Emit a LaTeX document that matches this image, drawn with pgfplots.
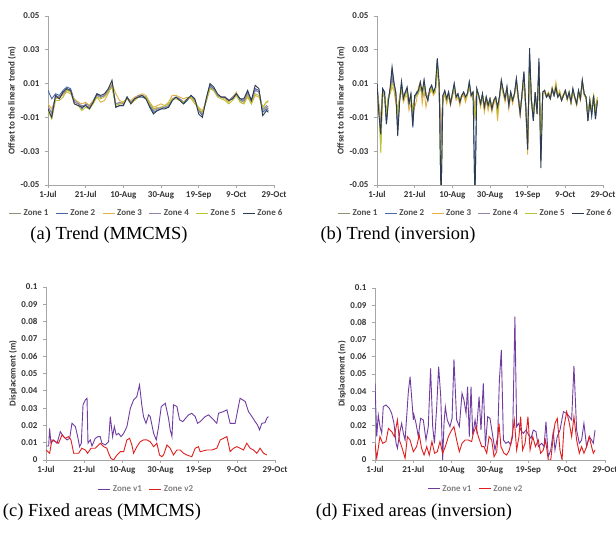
\documentclass[border=0pt]{standalone}
\usepackage{pgfplots}
\pgfplotsset{compat=1.18}
\usepackage{pgfplotstable}
\usepackage{fontspec}
\setmainfont{Liberation Serif}
\newfontfamily\calfont{Carlito}

\definecolor{zA}{RGB}{140,145,120}
\definecolor{zB}{RGB}{70,105,170}
\definecolor{zC}{RGB}{225,175,70}
\definecolor{zD}{RGB}{150,130,170}
\definecolor{zE}{RGB}{185,195,50}
\definecolor{zF}{RGB}{45,60,80}
\definecolor{vA}{RGB}{112,60,160}
\definecolor{vB}{RGB}{225,30,30}

\pgfplotstableread{
d z1 z2 z3 z4 z5 z6
0 -0.003 0.006 -0.002 -0.004 -0.006 -0.005
2 -0.008 0.001 -0.005 -0.007 -0.011 -0.010
4 0.002 0.004 0.001 0.003 0.000 0.003
6 0.001 0.003 0.002 0.002 0.000 0.001
8 0.005 0.006 0.003 0.004 0.002 0.005
10 0.007 0.008 0.005 0.006 0.006 0.007
12 0.006 0.007 0.004 0.006 0.005 0.006
14 -0.001 0.000 0.001 -0.001 -0.002 -0.002
16 -0.002 -0.001 -0.001 -0.002 -0.003 -0.003
18 -0.004 -0.005 -0.002 -0.003 -0.006 -0.004
20 -0.003 -0.002 -0.001 -0.003 -0.004 -0.003
22 -0.004 -0.003 -0.003 -0.004 -0.005 -0.005
24 -0.001 0.000 0.000 -0.001 -0.002 -0.001
26 0.003 0.004 0.002 0.003 0.002 0.004
28 0.002 0.002 -0.001 0.002 0.001 0.003
30 0.003 0.003 0.000 0.003 0.002 0.004
32 0.006 0.005 0.004 0.006 0.005 0.007
34 0.010 0.009 0.010 0.009 0.008 0.012
36 -0.002 -0.004 0.004 -0.002 -0.003 -0.004
38 -0.002 -0.003 0.000 -0.001 -0.002 -0.003
40 -0.002 -0.003 -0.001 -0.002 -0.001 -0.003
42 0.002 0.002 0.001 0.002 0.001 0.002
44 -0.001 -0.001 0.000 -0.001 -0.002 -0.002
46 0.001 0.001 0.002 0.001 0.000 0.001
48 0.002 0.002 0.003 0.003 0.002 0.002
50 0.003 0.002 0.004 0.003 0.003 0.003
52 0.002 0.001 0.003 0.002 0.002 0.001
54 -0.002 -0.003 -0.001 -0.002 -0.002 -0.004
56 -0.006 -0.007 -0.004 -0.005 -0.005 -0.008
58 -0.005 -0.006 -0.003 -0.005 -0.004 -0.006
60 -0.004 -0.005 -0.002 -0.004 -0.004 -0.005
62 -0.004 -0.004 -0.003 -0.004 -0.003 -0.005
64 -0.003 -0.004 -0.001 -0.003 -0.002 -0.004
66 0.001 0.000 0.003 0.001 0.001 0.000
68 0.002 0.002 0.003 0.002 0.001 0.002
70 0.001 0.000 0.002 0.001 0.000 0.000
72 -0.001 -0.002 0.001 -0.001 -0.001 -0.002
74 0.001 0.000 0.002 0.001 0.001 0.001
76 0.002 0.003 0.001 0.002 0.002 0.003
78 0.000 0.000 -0.002 0.000 -0.001 0.001
80 -0.005 -0.006 -0.004 -0.006 -0.005 -0.008
82 -0.008 -0.009 -0.006 -0.008 -0.007 -0.010
84 0.000 0.001 -0.001 0.000 0.000 0.001
86 0.008 0.009 0.007 0.008 0.007 0.010
88 0.006 0.007 0.006 0.006 0.006 0.008
90 0.003 0.003 0.003 0.003 0.002 0.004
92 0.002 0.002 0.002 0.002 0.001 0.002
94 0.001 0.002 0.001 0.002 0.000 0.002
96 0.000 0.000 -0.001 0.000 -0.002 0.000
98 0.002 0.001 0.002 0.002 0.000 0.001
100 0.004 0.004 0.005 0.004 0.003 0.004
102 0.000 0.001 -0.001 0.000 -0.001 0.001
104 -0.001 0.000 -0.002 0.000 -0.002 0.001
106 0.004 0.005 0.002 0.004 0.003 0.006
108 -0.001 0.000 -0.002 -0.001 -0.002 0.000
110 0.006 0.007 0.003 0.006 0.004 0.009
112 0.005 0.006 0.002 0.005 0.003 0.007
114 -0.006 -0.007 -0.004 -0.005 -0.004 -0.009
116 -0.004 -0.005 -0.001 -0.003 -0.001 -0.006
117 -0.005 -0.006 -0.001 -0.004 0.000 -0.007
}\trendA

\pgfplotstableread{
d z1 z2 z3 z4 z5 z6
0 0.008 0.010 0.006 0.009 0.007 0.010
1 -0.004 -0.006 -0.002 -0.005 -0.003 -0.008
2 -0.025 -0.018 -0.010 -0.015 -0.031 -0.020
3 0.006 0.007 0.005 0.006 0.004 0.007
4 0.003 0.005 0.002 0.004 0.002 0.005
5 -0.010 -0.014 -0.006 -0.010 -0.008 -0.014
6 0.001 0.000 0.002 0.001 0.002 -0.001
7 0.006 0.007 0.004 0.006 0.005 0.008
8 0.014 0.018 0.008 0.012 0.010 0.020
9 0.009 0.010 0.006 0.009 0.008 0.011
10 0.003 0.005 -0.002 0.003 0.002 0.004
11 -0.012 -0.018 -0.004 -0.010 -0.008 -0.021
12 0.001 0.000 0.002 0.001 0.001 -0.001
13 0.009 0.011 0.006 0.008 0.007 0.011
14 0.002 0.001 -0.001 0.002 0.001 0.001
15 0.004 0.005 0.002 0.004 0.003 0.005
16 0.006 0.007 0.003 0.006 0.005 0.008
17 -0.001 -0.002 -0.006 -0.001 -0.002 -0.002
18 0.003 0.003 -0.002 0.003 0.002 0.004
19 -0.010 -0.016 -0.008 -0.010 -0.006 -0.015
20 0.002 0.002 -0.004 0.001 0.002 0.003
21 0.004 0.005 0.000 0.003 0.003 0.004
22 0.005 0.006 0.008 0.005 0.004 0.006
23 0.009 0.008 0.011 0.009 0.008 0.011
24 0.004 0.003 -0.002 0.005 0.004 0.005
25 0.010 0.012 0.006 0.009 0.010 0.012
26 0.003 0.004 -0.004 0.004 0.003 0.003
27 0.001 0.000 0.002 0.002 0.001 0.000
28 0.006 0.006 0.004 0.006 0.005 0.007
29 0.008 0.009 0.006 0.008 0.007 0.009
30 0.004 0.005 0.003 0.005 0.004 0.005
31 0.006 0.007 0.005 0.006 0.006 0.008
32 0.020 0.024 0.018 0.021 0.019 0.025
33 0.008 0.010 0.006 0.008 0.009 0.010
34 -0.022 -0.060 -0.018 -0.025 -0.060 -0.060
35 0.002 0.003 0.001 0.003 0.002 0.003
36 0.004 0.005 0.003 0.004 0.004 0.006
37 0.000 0.001 -0.002 0.000 0.000 0.001
38 0.004 0.005 0.003 0.004 0.004 0.005
39 -0.001 -0.002 -0.003 -0.001 -0.001 -0.002
40 0.003 0.004 0.002 0.003 0.003 0.004
41 0.008 0.010 0.007 0.008 0.008 0.010
42 0.002 0.002 0.000 0.002 0.002 0.002
43 0.003 0.004 0.002 0.003 0.003 0.004
44 -0.001 -0.001 -0.003 0.000 -0.001 -0.001
45 0.003 0.003 0.002 0.003 0.003 0.003
46 0.004 0.005 0.003 0.004 0.004 0.005
47 0.001 0.002 -0.001 0.002 0.001 0.002
48 0.004 0.004 0.003 0.004 0.004 0.004
49 0.009 0.011 0.008 0.009 0.009 0.011
50 0.003 0.003 0.002 0.003 0.003 0.003
51 0.004 0.005 0.004 0.004 0.004 0.005
52 -0.012 -0.060 -0.004 -0.008 -0.010 -0.060
53 0.006 0.007 0.005 0.006 0.006 0.007
54 0.003 0.003 0.002 0.003 0.003 0.003
55 -0.002 -0.002 -0.004 -0.002 -0.002 -0.002
56 0.003 0.004 0.002 0.003 0.003 0.004
57 -0.004 -0.004 -0.007 -0.004 -0.004 -0.004
58 0.002 0.002 0.000 0.002 0.002 0.002
59 -0.003 -0.003 -0.006 -0.003 -0.003 -0.003
60 0.001 0.001 -0.001 0.001 0.001 0.001
61 -0.004 -0.005 -0.007 -0.005 -0.004 -0.005
62 0.000 0.000 -0.002 0.000 0.000 0.000
63 0.002 0.002 0.001 0.002 0.002 0.002
64 -0.005 -0.004 -0.012 -0.005 -0.008 -0.004
65 0.002 0.002 0.000 0.002 0.002 0.002
66 0.010 0.012 0.009 0.010 0.011 0.012
67 0.005 0.006 0.004 0.005 0.005 0.006
68 0.001 0.001 -0.001 0.001 0.001 0.001
69 0.007 0.008 0.006 0.007 0.007 0.008
70 -0.002 -0.003 -0.005 -0.003 -0.002 -0.003
71 0.004 0.005 0.003 0.004 0.004 0.005
72 0.000 0.000 -0.002 0.000 0.000 0.000
73 0.004 0.004 0.003 0.004 0.004 0.004
74 0.011 0.013 0.010 0.011 0.012 0.013
75 0.002 0.002 0.000 0.002 0.002 0.002
76 -0.006 -0.008 -0.009 -0.006 -0.007 -0.008
77 0.003 0.004 0.002 0.003 0.003 0.004
78 0.013 0.017 0.011 0.014 0.013 0.017
79 -0.003 -0.004 -0.006 -0.003 -0.004 -0.004
80 -0.022 -0.029 -0.032 -0.024 -0.026 -0.029
81 0.024 0.028 0.018 0.022 0.020 0.031
82 0.000 0.000 -0.002 0.000 0.000 0.000
83 -0.009 -0.012 -0.010 -0.009 -0.010 -0.012
84 0.004 0.005 0.003 0.004 0.004 0.005
85 -0.006 -0.008 -0.008 -0.006 -0.007 -0.008
86 0.020 0.023 0.016 0.019 0.018 0.025
87 -0.030 -0.036 -0.025 -0.028 -0.027 -0.040
88 0.004 0.005 0.003 0.004 0.004 0.005
89 0.005 0.006 0.006 0.005 0.005 0.006
90 0.002 0.002 0.003 0.002 0.002 0.002
91 0.003 0.004 0.005 0.003 0.004 0.004
92 0.001 0.001 0.002 0.001 0.001 0.001
93 0.006 0.007 0.008 0.006 0.007 0.007
94 0.003 0.003 0.004 0.003 0.004 0.003
95 0.007 0.008 0.011 0.007 0.009 0.008
96 0.002 0.002 0.003 0.002 0.002 0.002
97 0.004 0.004 0.006 0.004 0.005 0.004
98 0.000 0.000 0.001 0.000 0.000 0.000
99 0.003 0.003 0.004 0.003 0.003 0.003
100 0.005 0.006 0.005 0.005 0.006 0.006
101 0.001 0.001 0.000 0.001 0.001 0.001
102 0.004 0.005 0.004 0.004 0.005 0.005
103 -0.001 -0.001 -0.002 -0.001 -0.001 -0.001
104 0.006 0.007 0.005 0.006 0.006 0.007
105 0.002 0.002 0.001 0.002 0.002 0.002
106 -0.002 -0.002 -0.003 -0.002 -0.002 -0.002
107 0.005 0.006 0.004 0.005 0.005 0.006
108 0.001 0.001 0.000 0.001 0.001 0.001
109 0.011 0.012 0.010 0.011 0.011 0.012
110 0.004 0.004 0.003 0.004 0.004 0.004
111 0.002 0.002 0.001 0.002 0.002 0.002
112 -0.010 -0.012 -0.008 -0.010 -0.009 -0.012
113 0.000 0.000 -0.001 0.000 0.001 0.000
114 -0.007 -0.009 -0.005 -0.007 -0.006 -0.009
115 0.002 0.003 0.001 0.002 0.003 0.003
116 -0.009 -0.011 -0.004 -0.008 -0.006 -0.011
117 -0.001 0.000 0.002 -0.001 0.001 0.000
}\trendB

\pgfplotstableread{
d v
0 0.0081
1.4 0.0081
1.9 0.0183
2.6 0.0097
4.0 0.0116
5.8 0.0097
7.5 0.0164
9.2 0.0135
11.0 0.0116
12.4 0.0125
13.6 0.0212
15.4 0.0193
16.6 0.0135
17.6 0.0077
18.5 0.0097
19.4 0.0319
20.6 0.0347
21.5 0.0357
22.0 0.0097
23.2 0.0116
24.1 0.0081
25.8 0.0125
27.2 0.0135
28.4 0.0135
29.3 0.0097
31.1 0.0087
32.8 0.0106
33.7 0.0251
34.9 0.0135
35.8 0.0193
36.8 0.0145
38.0 0.0154
39.3 0.0135
40.7 0.0154
42.4 0.0193
44.2 0.0299
45.9 0.0347
46.8 0.0357
47.6 0.0367
49.0 0.0434
50.3 0.0309
51.1 0.0251
52.4 0.0212
53.8 0.0261
54.6 0.0251
56.4 0.0154
57.8 0.0116
59.0 0.0193
60.4 0.0309
62.5 0.0328
64.2 0.0241
65.1 0.0174
66.0 0.0135
66.8 0.0319
68.6 0.0309
70.0 0.0232
71.7 0.0222
74.7 0.0261
76.4 0.0270
78.2 0.0251
79.4 0.0212
80.8 0.0222
83.4 0.0251
85.2 0.0261
87.8 0.0232
89.5 0.0212
90.4 0.0270
93.0 0.0280
94.8 0.0290
96.5 0.0212
99.1 0.0212
101.7 0.0357
104.4 0.0338
106.1 0.0280
107.9 0.0251
109.6 0.0222
110.8 0.0203
111.9 0.0174
113.1 0.0212
114.8 0.0216
115.7 0.0241
116.6 0.0251
}\fixCa

\pgfplotstableread{
d v
0 0.0058
1.9 0.0039
3.1 0.0116
4.9 0.0106
6.6 0.0097
8.4 0.0145
10.1 0.0125
11.9 0.0135
13.1 0.0116
14.5 0.0039
17.1 0.0039
18.8 0.0068
20.6 0.0058
21.8 0.0039
23.6 0.0068
25.8 0.0068
28.4 0.0097
30.2 0.0077
31.9 0.0068
32.8 0.0039
34.0 0.0010
35.4 0.0000
37.2 0.0029
38.9 0.0048
40.7 0.0048
42.4 0.0116
43.8 0.0125
45.0 0.0087
45.9 0.0039
47.6 0.0077
49.4 0.0106
51.1 0.0116
52.9 0.0116
54.6 0.0106
56.4 0.0077
58.1 0.0097
59.5 0.0029
60.7 0.0019
61.6 0.0029
63.4 0.0087
65.1 0.0068
66.8 0.0029
68.6 0.0058
70.3 0.0058
72.1 0.0039
73.8 0.0029
76.4 0.0019
78.2 0.0068
79.9 0.0077
80.8 0.0048
84.3 0.0058
86.9 0.0058
89.5 0.0068
91.3 0.0116
93.0 0.0125
94.8 0.0135
96.5 0.0048
98.3 0.0068
100.0 0.0077
101.7 0.0068
103.5 0.0058
105.2 0.0097
107.0 0.0068
108.7 0.0058
110.5 0.0039
112.2 0.0068
114.0 0.0039
115.7 0.0029
}\fixCb

\pgfplotstableread{
d v
0 0.0446
0.9 0.0136
1.7 0.0262
2.6 0.0194
3.5 0.0155
4.3 0.0310
5.7 0.0320
7.5 0.0300
8.7 0.0271
9.9 0.0213
11.0 0.0097
11.7 0.0068
13.0 0.0165
13.9 0.0213
14.8 0.0155
15.7 0.0116
17.4 0.0397
18.3 0.0484
19.1 0.0368
20.0 0.0233
20.3 0.0262
21.4 0.0213
22.6 0.0136
23.8 0.0242
25.2 0.0233
26.6 0.0116
27.8 0.0194
29.0 0.0533
30.1 0.0194
31.0 0.0097
32.2 0.0310
33.2 0.0543
34.3 0.0368
35.3 0.0000
36.0 0.0213
36.7 0.0310
37.7 0.0233
39.1 0.0194
40.2 0.0242
41.2 0.0585
42.6 0.0233
44.0 0.0194
45.4 0.0388
46.4 0.0349
47.5 0.0271
48.3 0.0426
49.2 0.0136
50.1 0.0426
51.0 0.0145
52.2 0.0233
53.0 0.0174
54.3 0.0368
55.3 0.0174
56.5 0.0446
57.6 0.0078
58.8 0.0252
60.0 0.0242
61.2 0.0155
62.6 0.0058
64.0 0.0136
64.9 0.0465
65.9 0.0640
67.0 0.0116
68.3 0.0097
69.6 0.0107
70.8 0.0087
71.8 0.0136
73.0 0.0833
73.9 0.0194
75.0 0.0213
76.0 0.0174
77.4 0.0155
78.8 0.0174
80.2 0.0145
81.4 0.0126
82.6 0.0174
84.0 0.0165
85.2 0.0078
87.0 0.0097
88.2 0.0078
89.2 0.0223
90.4 0.0019
91.7 0.0058
93.0 0.0165
93.9 0.0058
95.1 0.0136
96.5 0.0174
98.3 0.0281
100.0 0.0271
101.4 0.0252
102.6 0.0233
103.8 0.0547
105.2 0.0174
106.6 0.0097
107.8 0.0116
109.0 0.0213
110.4 0.0078
111.8 0.0136
113.0 0.0116
113.9 0.0097
114.8 0.0174
}\fixDa

\pgfplotstableread{
d v
0 0.0097
0.9 0.0010
2.6 0.0136
4.0 0.0097
5.7 0.0107
7.0 0.0184
8.7 0.0165
10.1 0.0136
11.7 0.0233
12.7 0.0116
13.9 0.0078
15.7 0.0010
16.9 0.0136
18.3 0.0116
20.0 0.0048
21.7 0.0078
23.1 0.0145
24.3 0.0068
25.6 0.0029
27.0 0.0078
28.3 0.0029
29.7 0.0107
31.1 0.0039
32.5 0.0048
33.9 0.0107
35.3 0.0039
36.7 0.0078
38.3 0.0136
40.0 0.0174
41.2 0.0194
42.6 0.0116
44.0 0.0048
45.4 0.0097
47.0 0.0116
48.7 0.0116
50.4 0.0107
51.3 0.0155
52.7 0.0194
53.9 0.0136
55.7 0.0078
56.9 0.0078
58.3 0.0039
59.5 0.0136
60.9 0.0116
62.1 0.0019
63.5 0.0048
64.7 0.0213
65.7 0.0078
67.3 0.0039
68.7 0.0029
70.1 0.0058
71.5 0.0136
72.7 0.0233
73.9 0.0058
75.1 0.0136
76.0 0.0252
77.0 0.0058
78.3 0.0097
79.8 0.0252
80.9 0.0058
82.3 0.0136
83.7 0.0078
85.2 0.0116
86.4 0.0039
87.8 0.0058
89.0 0.0116
90.4 0.0000
91.7 0.0000
93.0 0.0136
93.9 0.0213
95.1 0.0242
96.5 0.0058
97.6 0.0000
98.6 0.0194
100.0 0.0281
101.4 0.0213
102.6 0.0136
103.8 0.0252
105.2 0.0116
106.6 0.0039
107.8 0.0078
109.0 0.0039
110.4 0.0078
111.8 0.0136
113.0 0.0078
113.9 0.0039
114.8 0.0058
}\fixDb

\newcommand\chfont{\calfont\bfseries\fontsize{9}{10}\selectfont}

\pgfplotsset{
  exstyle/.style={
    scale only axis,
    anchor=south west,
    axis x line*=bottom, axis y line*=left,
    axis line style={draw=black!35, line width=0.6bp},
    tick style={draw=black!35, line width=0.6bp},
    major tick length=3bp,
    tick align=outside,
    scaled ticks=false,
    xmin=0, xmax=120, xtick={0,20,...,120},
    xticklabels={1-Jul,21-Jul,10-Aug,30-Aug,19-Sep,9-Oct,29-Oct},
    ticklabel style={font=\chfont, text=black!80},
    yticklabel style={xshift=-2bp},
    /pgf/number format/assume math mode=true,
    label style={font=\chfont, text=black!80},
    legend columns=-1,
    legend image code/.code={\draw[##1] (0bp,0bp) -- (12bp,0bp);},
    every axis plot/.append style={line width=0.9bp, mark=none},
  },
  trendstyle/.style={
    exstyle, width=226bp, height=169bp,
    ymin=-0.05, ymax=0.05,
    ytick={-0.05,-0.03,-0.01,0.01,0.03,0.05},
    yticklabels={-0.05,-0.03,-0.01,0.01,0.03,0.05},
    ylabel={Offset to the linear trend (m)},
    ylabel style={at={(axis description cs:-0.159,0.5)}, anchor=center},
    legend style={draw=none, fill=none, font=\chfont\color{black!70},
      /tikz/every even column/.append style={column sep=5bp},
      at={(axis description cs:0.436,-0.166)}, anchor=center},
  },
  fixstyle/.style={
    exstyle, width=229bp, height=173bp,
    ymin=0, ymax=0.1,
    ytick={0,0.01,0.02,0.03,0.04,0.05,0.06,0.07,0.08,0.09,0.1},
    yticklabels={0,0.01,0.02,0.03,0.04,0.05,0.06,0.07,0.08,0.09,0.1},
    ylabel={Displacement (m)},
    ylabel style={at={(axis description cs:-0.144,0.5)}, anchor=center},
    legend style={draw=none, fill=none, font=\chfont\color{black!50},
      /tikz/every even column/.append style={column sep=5bp},
      at={(axis description cs:0.439,-0.168)}, anchor=center},
  },
}

\begin{document}
\begin{tikzpicture}
\useasboundingbox (0,0) rectangle (616bp,537bp);

% (a)
\begin{axis}[trendstyle, at={(48bp,352bp)}]
\addplot[zA] table[x=d,y=z1]{\trendA};
\addplot[zB] table[x=d,y=z2]{\trendA};
\addplot[zC] table[x=d,y=z3]{\trendA};
\addplot[zD] table[x=d,y=z4]{\trendA};
\addplot[zE] table[x=d,y=z5]{\trendA};
\addplot[zF] table[x=d,y=z6]{\trendA};
\legend{Zone 1,Zone 2,Zone 3,Zone 4,Zone 5,Zone 6}
\end{axis}

% (b)
\begin{axis}[trendstyle, at={(377bp,352bp)}]
\addplot[zA] table[x=d,y=z1]{\trendB};
\addplot[zB] table[x=d,y=z2]{\trendB};
\addplot[zC] table[x=d,y=z3]{\trendB};
\addplot[zD] table[x=d,y=z4]{\trendB};
\addplot[zE] table[x=d,y=z5]{\trendB};
\addplot[zF] table[x=d,y=z6]{\trendB};
\legend{Zone 1,Zone 2,Zone 3,Zone 4,Zone 5,Zone 6}
\end{axis}

% (c)
\begin{axis}[fixstyle, at={(46bp,77bp)}]
\addplot[vA] table[x=d,y=v]{\fixCa};
\addplot[vB] table[x=d,y=v]{\fixCb};
\legend{Zone v1,Zone v2}
\end{axis}

% (d)
\begin{axis}[fixstyle, at={(375bp,77bp)}, width=230bp, height=172bp]
\addplot[vA] table[x=d,y=v]{\fixDa};
\addplot[vB] table[x=d,y=v]{\fixDb};
\legend{Zone v1,Zone v2}
\end{axis}

\node[font=\fontsize{18.5}{20}\selectfont] at (109bp,302bp) {(a) Trend (MMCMS)};
\node[font=\fontsize{18.5}{20}\selectfont] at (398bp,302bp) {(b) Trend (inversion)};
\node[font=\fontsize{18.5}{20}\selectfont] at (102bp,25bp) {(c) Fixed areas (MMCMS)};
\node[font=\fontsize{18.5}{20}\selectfont] at (414bp,25bp) {(d) Fixed areas (inversion)};
\end{tikzpicture}
\end{document}
